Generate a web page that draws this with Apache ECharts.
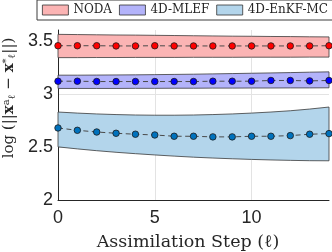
<!DOCTYPE html>
<html><head><meta charset="utf-8">
<script src="https://cdn.jsdelivr.net/npm/echarts@6/dist/echarts.min.js"></script>
<style>html,body{margin:0;padding:0;background:#fff}#c{width:332px;height:252px}</style>
</head><body><div id="c"></div>
<script>
const steps = [0,1,2,3,4,5,6,7,8,9,10,11,12,13,14];
const xTicks = [0,5,10];
const yTicks = [2,2.5,3,3.5];
const legendNames = ['NODA','4D-MLEF','4D-EnKF-MC'];

const nodaMean  = [3.452,3.452,3.452,3.450,3.450,3.452,3.450,3.450,3.450,3.450,3.450,3.450,3.450,3.450,3.452];
const nodaUpper = [3.559,3.557,3.555,3.553,3.552,3.550,3.548,3.546,3.544,3.542,3.541,3.539,3.538,3.536,3.535];
const nodaLower = [3.340,3.340,3.341,3.341,3.342,3.342,3.342,3.343,3.343,3.343,3.344,3.344,3.344,3.345,3.345];

const mlefMean  = [3.118,3.118,3.115,3.115,3.115,3.115,3.115,3.115,3.118,3.118,3.118,3.125,3.125,3.121,3.125];
const mlefUpper = [3.175,3.175,3.176,3.177,3.178,3.180,3.182,3.184,3.187,3.190,3.193,3.196,3.199,3.203,3.206];
const mlefLower = [3.050,3.050,3.050,3.050,3.051,3.051,3.052,3.052,3.053,3.053,3.054,3.054,3.055,3.055,3.056];

const enkfMean  = [2.678,2.656,2.640,2.628,2.619,2.612,2.600,2.600,2.594,2.594,2.600,2.600,2.606,2.619,2.625];
const enkfUpper = [2.828,2.818,2.810,2.804,2.800,2.798,2.798,2.800,2.804,2.810,2.818,2.828,2.840,2.856,2.875];
const enkfLower = [2.500,2.481,2.464,2.449,2.436,2.424,2.413,2.403,2.395,2.388,2.382,2.377,2.373,2.370,2.369];

const fills = ['#fbb4b4','#b3b3fa','#b3d5eb'];
const dots  = ['#ff0000','#0000ff','#0072bd'];

function bandSeries(name, upper, lower, fill) {
  return {
    type: 'custom', name: name, z: 1, silent: true,
    data: steps.map((s, i) => [s, lower[i], upper[i]]),
    encode: { x: 0, y: [1, 2] },
    itemStyle: { color: fill, borderColor: '#333' },
    renderItem: function (params, api) {
      if (params.dataIndex !== 0) return null;
      const pts = [];
      for (let i = 0; i < steps.length; i++) pts.push(api.coord([steps[i], upper[i]]));
      for (let i = steps.length - 1; i >= 0; i--) pts.push(api.coord([steps[i], lower[i]]));
      return { type: 'polygon', shape: { points: pts }, style: { fill: fill, stroke: '#3a3a3a', lineWidth: 0.8 } };
    }
  };
}
function meanSeries(name, vals, color) {
  return {
    type: 'line', name: name, z: 3, silent: true,
    data: steps.map((s, i) => [s, vals[i]]),
    symbol: 'circle', symbolSize: 6.5, showSymbol: true,
    itemStyle: { color: color, borderColor: '#1a1a1a', borderWidth: 0.8 },
    lineStyle: { color: '#4a4a4a', width: 1, type: [5, 3.5] },
    emphasis: { disabled: true }
  };
}

const chart = echarts.init(document.getElementById('c'), null, { renderer: 'canvas' });
chart.setOption({
  animation: false,
  backgroundColor: '#fff',
  grid: { left: 58, right: 3, top: 30, bottom: 52, outerBoundsMode: 'none' },
  legend: {
    left: 37, top: 0, orient: 'horizontal', width: 292,
    padding: [4, 5, 4, 5], itemGap: 7, itemWidth: 26, itemHeight: 10,
    borderColor: '#3c3c3c', borderWidth: 1, backgroundColor: '#fff',
    textStyle: { fontFamily: 'DejaVu Serif', fontSize: 12, color: '#262626' },
    selectedMode: false,
    data: legendNames.map((n, i) => ({ name: n, icon: 'rect', itemStyle: { color: fills[i], borderColor: '#333', borderWidth: 0.8 } }))
  },
  xAxis: {
    type: 'value', min: 0, max: 14, interval: 5,
    axisLine: { show: true, onZero: false, lineStyle: { color: '#262626', width: 1 } },
    axisTick: { show: false },
    axisLabel: { color: '#262626', fontFamily: 'Liberation Sans', fontSize: 18, margin: 9, showMaxLabel: false,
      formatter: v => (xTicks.indexOf(v) >= 0 ? String(v) : '') },
    splitLine: { show: true, showMinLine: false, showMaxLine: false, lineStyle: { color: '#e3e3e3', width: 1 } },
    name: 'Assimilation Step (ℓ)', nameLocation: 'middle', nameGap: 33,
    nameTextStyle: { fontFamily: 'DejaVu Serif', fontSize: 17.5, color: '#262626', padding: [0, 11, 0, 0] }
  },
  yAxis: {
    type: 'value', min: 2, max: 3.6, interval: 0.5,
    axisLine: { show: true, onZero: false, lineStyle: { color: '#262626', width: 1 } },
    axisTick: { show: false },
    axisLabel: { color: '#262626', fontFamily: 'Liberation Sans', fontSize: 18, margin: 5, showMaxLabel: false,
      formatter: v => (yTicks.indexOf(v) >= 0 ? String(v) : '') },
    splitLine: { show: true, showMinLine: false, showMaxLine: false, lineStyle: { color: '#e3e3e3', width: 1 } },
    name: 'log (||{b|x}{sup|a}{sub|ℓ} − {b|x}{sup|*}{sub|ℓ}||)',
    nameLocation: 'middle', nameGap: 38, nameRotate: 90,
    nameTextStyle: {
      fontFamily: 'DejaVu Serif', fontSize: 15, color: '#262626', padding: [0, 0, 0, 34],
      rich: {
        b: { fontFamily: 'DejaVu Serif', fontSize: 15, fontWeight: 'bold', color: '#262626' },
        sup: { fontFamily: 'DejaVu Serif', fontSize: 10, color: '#262626', verticalAlign: 'top', padding: [0, 0, 6, 0] },
        sub: { fontFamily: 'DejaVu Serif', fontSize: 10, color: '#262626', verticalAlign: 'bottom', padding: [6, 0, 0, 0] }
      }
    }
  },
  series: [
    bandSeries('NODA', nodaUpper, nodaLower, fills[0]),
    bandSeries('4D-MLEF', mlefUpper, mlefLower, fills[1]),
    bandSeries('4D-EnKF-MC', enkfUpper, enkfLower, fills[2]),
    meanSeries('NODA mean', nodaMean, dots[0]),
    meanSeries('4D-MLEF mean', mlefMean, dots[1]),
    meanSeries('4D-EnKF-MC mean', enkfMean, dots[2])
  ]
});
</script>
</body></html>
